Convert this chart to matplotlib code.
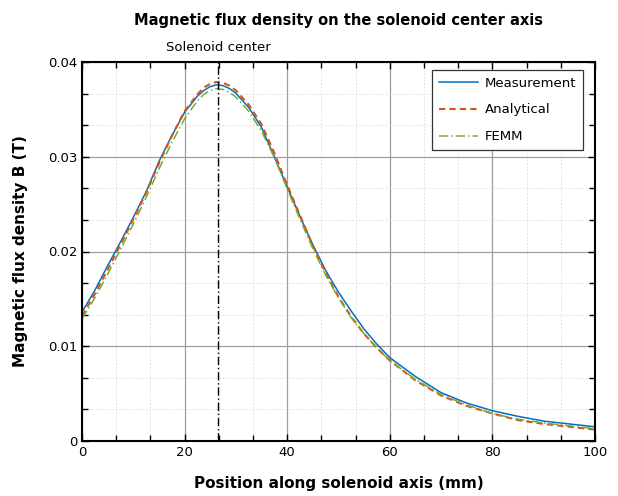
import matplotlib
matplotlib.use("Agg")
import matplotlib.pyplot as plt
from matplotlib.ticker import MultipleLocator, FuncFormatter
import matplotlib.transforms as mtransforms

# position along axis (mm)
pos = [0, 2.5, 5, 7.5, 10, 12.5, 15, 17.5, 20, 22.5, 23.75, 25, 26.25, 27.5,
       28.75, 30, 32.5, 35, 37.5, 40, 42.5, 45, 47.5, 50, 52.5, 55, 57.5, 60,
       65, 70, 75, 80, 85, 90, 95, 100]

measurement = [0.0136, 0.0159, 0.0185, 0.0210, 0.0236, 0.0263, 0.0295, 0.0322,
               0.0347, 0.0364, 0.0370, 0.0374, 0.0376, 0.0375, 0.0372, 0.0367,
               0.0352, 0.0331, 0.0300, 0.0268, 0.0237, 0.0207, 0.0180, 0.0157,
               0.0137, 0.0118, 0.0102, 0.0088, 0.0068, 0.0051, 0.0040, 0.0032,
               0.0026, 0.0021, 0.0018, 0.0015]

analytical = [0.0132, 0.0155, 0.0181, 0.0207, 0.0234, 0.0262, 0.0293, 0.0322,
              0.0348, 0.0366, 0.0373, 0.0377, 0.0379, 0.0378, 0.0375, 0.0370,
              0.0355, 0.0334, 0.0304, 0.0270, 0.0238, 0.0206, 0.0177, 0.0152,
              0.0131, 0.0113, 0.0098, 0.0085, 0.0064, 0.0048, 0.0037, 0.0029,
              0.0022, 0.0018, 0.0015, 0.0012]

femm = [0.0129, 0.0151, 0.0176, 0.0202, 0.0229, 0.0257, 0.0287, 0.0315,
        0.0340, 0.0359, 0.0366, 0.0370, 0.0372, 0.0371, 0.0368, 0.0363,
        0.0348, 0.0327, 0.0299, 0.0266, 0.0234, 0.0203, 0.0175, 0.0151,
        0.0130, 0.0113, 0.0098, 0.0085, 0.0065, 0.0049, 0.0038, 0.0029,
        0.0023, 0.0019, 0.0016, 0.0013]

center = 26.6

plt.rcParams['font.family'] = ['DejaVu Sans']

fig = plt.figure(figsize=(6.18, 4.96), dpi=100)
ax = fig.add_axes([82/618, 55/496, 513/618, 379/496])

ax.plot(pos, measurement, color='#0072BD', lw=1.1, label='Measurement')
ax.plot(pos, analytical, color='#D95319', lw=1.5, ls=(0, (3, 2)), label='Analytical')
ax.plot(pos, femm, color='#77AC30', lw=1.1, ls=(0, (6, 2, 1, 2)), label='FEMM')
ax.axvline(center, color='black', lw=1.0, ls=(0, (6, 2, 1, 2)))

ax.set_xlim(0, 100)
ax.set_ylim(0, 0.04)
ax.xaxis.set_major_locator(MultipleLocator(20))
ax.xaxis.set_minor_locator(MultipleLocator(20/3))
ax.yaxis.set_major_locator(MultipleLocator(0.01))
ax.yaxis.set_minor_locator(MultipleLocator(0.01/3))
ax.yaxis.set_major_formatter(FuncFormatter(lambda v, p: '0' if abs(v) < 1e-9 else f'{v:.2f}'))

ax.grid(which='major', color='0.62', lw=0.9)
ax.grid(which='minor', color='0.85', lw=0.6, ls=(0, (2, 2)))
ax.set_axisbelow(True)

ax.tick_params(which='both', direction='in', top=True, right=True, labelsize=9.5)
ax.tick_params(which='major', length=5, width=1)
ax.tick_params(which='minor', length=4, width=1)
for s in ax.spines.values():
    s.set_linewidth(1.5)

ax.set_title('Magnetic flux density on the solenoid center axis',
             fontsize=10.5, fontweight='bold', pad=27)
ax.set_xlabel('Position along solenoid axis (mm)', fontsize=11, fontweight='bold', labelpad=12)
ax.set_ylabel('Magnetic flux density B (T)', fontsize=11, fontweight='bold', labelpad=14)

trans = mtransforms.blended_transform_factory(ax.transData, ax.transAxes)
ax.text(center, 1.02, 'Solenoid center', transform=trans, ha='center', va='bottom',
        fontsize=9.5)

leg = ax.legend(loc='upper right', bbox_to_anchor=(0.9766, 0.9789), borderaxespad=0,
                fontsize=9.5, handlelength=3.0, handletextpad=0.5, fancybox=False,
                borderpad=0.5, labelspacing=1.05, framealpha=1)
leg.get_frame().set_edgecolor('0.2')
leg.get_frame().set_linewidth(0.9)

fig.savefig('out.png', dpi=100)
